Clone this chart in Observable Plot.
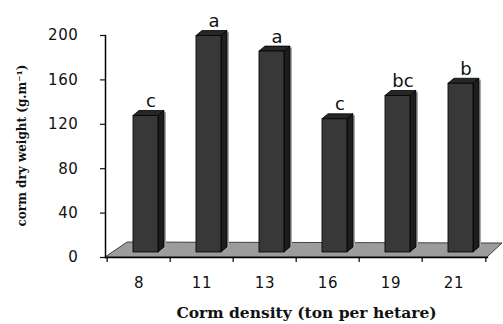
<!DOCTYPE html>
<html>
<head>
<meta charset="utf-8">
<script src="https://cdn.jsdelivr.net/npm/d3@7"></script>
<script src="https://cdn.jsdelivr.net/npm/@observablehq/plot@0.6"></script>
<style>
  body { margin: 0; background: #fff; }
  g[aria-label="letters"] text { letter-spacing: 1.5px; }
  g[aria-label="y-axis tick label"] text, g[aria-label="x-axis tick label"] text { letter-spacing: 0.6px; }
</style>
</head>
<body>
<div id="chart"></div>
<script>
// Corm dry weight by corm density, with mean-separation letters
const densities = ["8", "11", "13", "16", "19", "21"];
const weights = [123, 195, 181, 120, 141, 152];
const letters = ["c", "a", "a", "c", "bc", "b"];
const yTicks = [0, 40, 80, 120, 160, 200];

const xTitle = "Corm density (ton per hetare)";
const yTitle = "corm dry weight (g.m\u207B\u00B9)";

const rows = densities.map((density, i) => ({density, weight: weights[i], letter: letters[i]}));

const W = 503, H = 324;
const margin = {top: 35, right: 16, bottom: 67, left: 105};
const bw = (W - margin.left - margin.right) / densities.length;

// pseudo-3D geometry (pixels)
const barDepth = {dx: 6, dy: -5};
const lift = 5;            // bars stand part-way back on the floor

// gray floor under the columns
const floor = Plot.ruleY([0], {
  render(index, scales, values, dims) {
    const y0 = scales.y(0);
    const xl = dims.marginLeft, xr = dims.width - dims.marginRight;
    const g = d3.create("svg:g");
    g.append("polygon")
      .attr("points", [[xl, y0], [xr, y0], [xr + 15, y0 - 14], [xl + 22, y0 - 15]].join(" "))
      .attr("fill", "#9c9c9c")
      .attr("stroke", "#222")
      .attr("stroke-width", 0.8);
    return g.node();
  }
});

// columns drawn as a front face, a dark side face and a top face
const columns = Plot.rectY(rows, {
  x: "density",
  y: "weight",
  render(index, scales, values, dims) {
    const g = d3.create("svg:g");
    const {dx, dy} = barDepth;
    for (const i of index) {
      const d = rows[i];
      const x0 = scales.x(d.density) + bw * 0.408;
      const x1 = x0 + bw * 0.393;
      const yb = scales.y(0) - lift;
      const yt = scales.y(d.weight) - lift;
      g.append("polygon")
        .attr("points", [[x1 + 2, yt + 1], [x1 + dx + 2, yt + dy + 1], [x1 + dx + 2, yb + dy], [x1 + 2, yb]].join(" "))
        .attr("fill", "#a8a8a8");
      g.append("polygon")
        .attr("points", [[x1, yt], [x1 + dx, yt + dy], [x1 + dx, yb + dy], [x1, yb]].join(" "))
        .attr("fill", "#1d1d1d").attr("stroke", "#000").attr("stroke-width", 0.8);
      g.append("polygon")
        .attr("points", [[x0, yt], [x0 + dx, yt + dy], [x1 + dx, yt + dy], [x1, yt]].join(" "))
        .attr("fill", "#262626").attr("stroke", "#000").attr("stroke-width", 0.8);
      g.append("rect")
        .attr("x", x0).attr("y", yt)
        .attr("width", x1 - x0).attr("height", yb - yt)
        .attr("fill", "#383838").attr("stroke", "#000").attr("stroke-width", 0.8);
    }
    return g.node();
  }
});

const chart = Plot.plot({
  width: W,
  height: H,
  marginTop: margin.top,
  marginRight: margin.right,
  marginBottom: margin.bottom,
  marginLeft: margin.left,
  style: {fontFamily: "DejaVu Sans", background: "#fff", color: "#111"},
  x: {type: "band", domain: densities, padding: 0},
  y: {domain: [0, 200]},
  marks: [
    floor,
    columns,
    Plot.frame({anchor: "left", stroke: "#000", strokeWidth: 1.5}),
    Plot.frame({anchor: "bottom", stroke: "#000", strokeWidth: 1.5}),
    // category boundary ticks below the axis
    Plot.ruleX(densities, {x: d => d, dx: -bw / 2, y1: 0, y2: -4.5, stroke: "#000", strokeWidth: 1.2}),
    Plot.ruleX(densities.slice(-1), {x: d => d, dx: bw / 2, y1: 0, y2: -4.5, stroke: "#000", strokeWidth: 1.2}),
    Plot.axisY({ticks: yTicks, tickSize: 5, tickPadding: 22, fontSize: 15, label: null, strokeWidth: 1.2}),
    Plot.axisX({tickSize: 0, tickPadding: 20, fontSize: 15, label: null}),
    Plot.text(rows, {
      x: "density", y: "weight", text: "letter",
      dx: 12, dy: -14, lineAnchor: "bottom",
      fontSize: 18, fill: "#111", ariaLabel: "letters"
    }),
    Plot.text([xTitle], {
      frameAnchor: "bottom", dx: 10, dy: 60,
      fontFamily: "DejaVu Serif", fontWeight: "bold", fontSize: 15.5,
      fill: "#111", ariaLabel: "x-title"
    }),
    Plot.text([yTitle], {
      frameAnchor: "left", dx: -83, dy: -1, rotate: -90, textAnchor: "middle",
      fontFamily: "DejaVu Serif", fontWeight: "bold", fontSize: 12,
      fill: "#111", ariaLabel: "y-title"
    })
  ]
});

document.getElementById("chart").appendChild(chart);
</script>
</body>
</html>
